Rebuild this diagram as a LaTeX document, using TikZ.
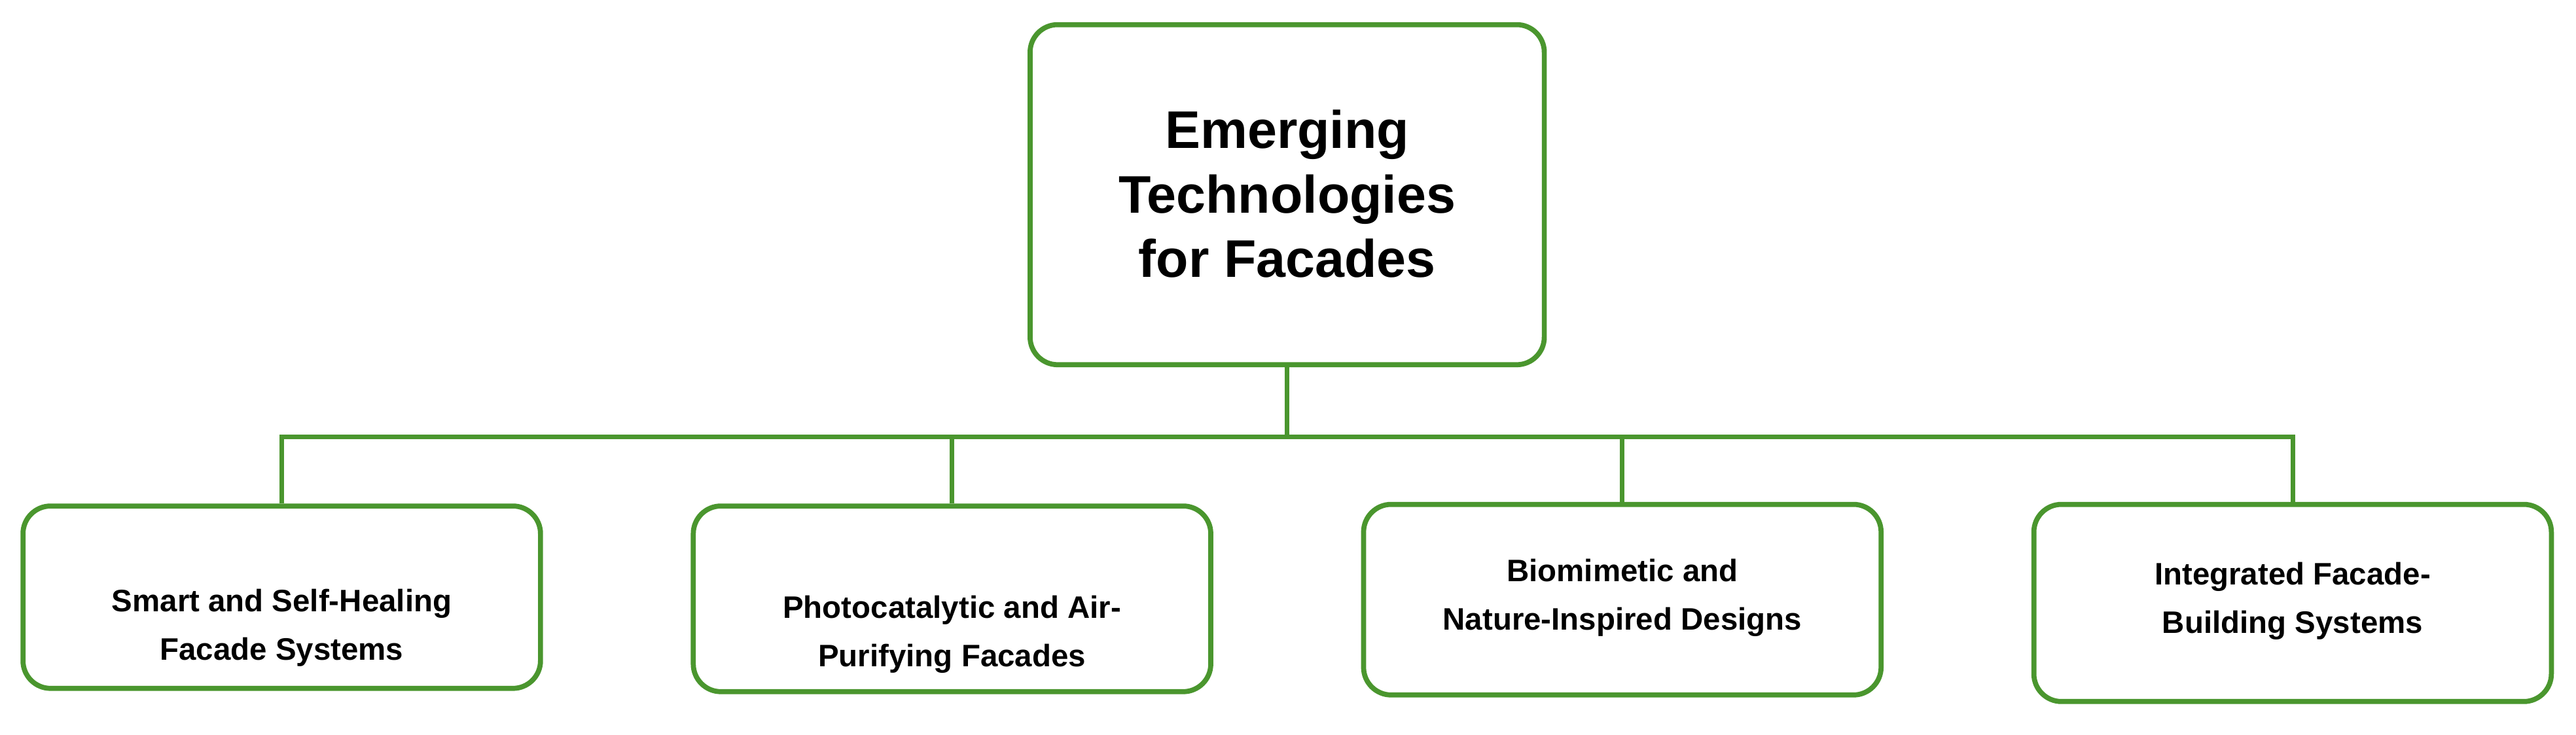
\documentclass[tikz,border=0pt]{standalone}
\usepackage{fontspec}
\setmainfont{Liberation Sans}
\definecolor{gr}{HTML}{4A962E}
\begin{document}
\begin{tikzpicture}[x=0.0251cm,y=-0.0251cm,
 box/.style={draw=gr,line width=2.2pt,rounded corners=12pt,fill=white},
 txt/.style={align=center,font=\bfseries\fontsize{13.5}{21}\selectfont},
 ln/.style={draw=gr,line width=2pt}]
\useasboundingbox (0,0) rectangle (1568,447);
\node[box,minimum width=313*0.0251cm,minimum height=207*0.0251cm] (top) at (783.5,118.5) {};
\node[align=center,font=\bfseries\fontsize{23}{28}\selectfont] (tt) at (783.5,118) {Emerging\\Technologies\\for Facades};
\node[box,minimum width=315*0.0251cm,minimum height=111*0.0251cm] (b1) at (171.5,363.5) {};
\node[box,minimum width=315*0.0251cm,minimum height=113*0.0251cm] (b2) at (579.5,364.5) {};
\node[box,minimum width=315*0.0251cm,minimum height=116*0.0251cm] (b3) at (987.5,365) {};
\node[box,minimum width=315*0.0251cm,minimum height=120*0.0251cm] (b4) at (1395.5,367) {};
\node[txt] (t1) at (171.5,382) {Smart and Self-Healing\\Facade Systems};
\node[txt] (t2) at (579.5,386) {Photocatalytic and Air-\\Purifying Facades};
\node[txt] (t3) at (987.5,364) {Biomimetic and\\Nature-Inspired Designs};
\node[txt] (t4) at (1395.5,366) {Integrated Facade-\\Building Systems};
\coordinate (j) at (783.5,266);
\draw[ln] (top.south) -- (j);
\draw[ln] (b1.north) |- (j) -| (b4.north);
\draw[ln] (b2.north) -- (b2.north |- j);
\draw[ln] (b3.north) -- (b3.north |- j);
\end{tikzpicture}
\end{document}
